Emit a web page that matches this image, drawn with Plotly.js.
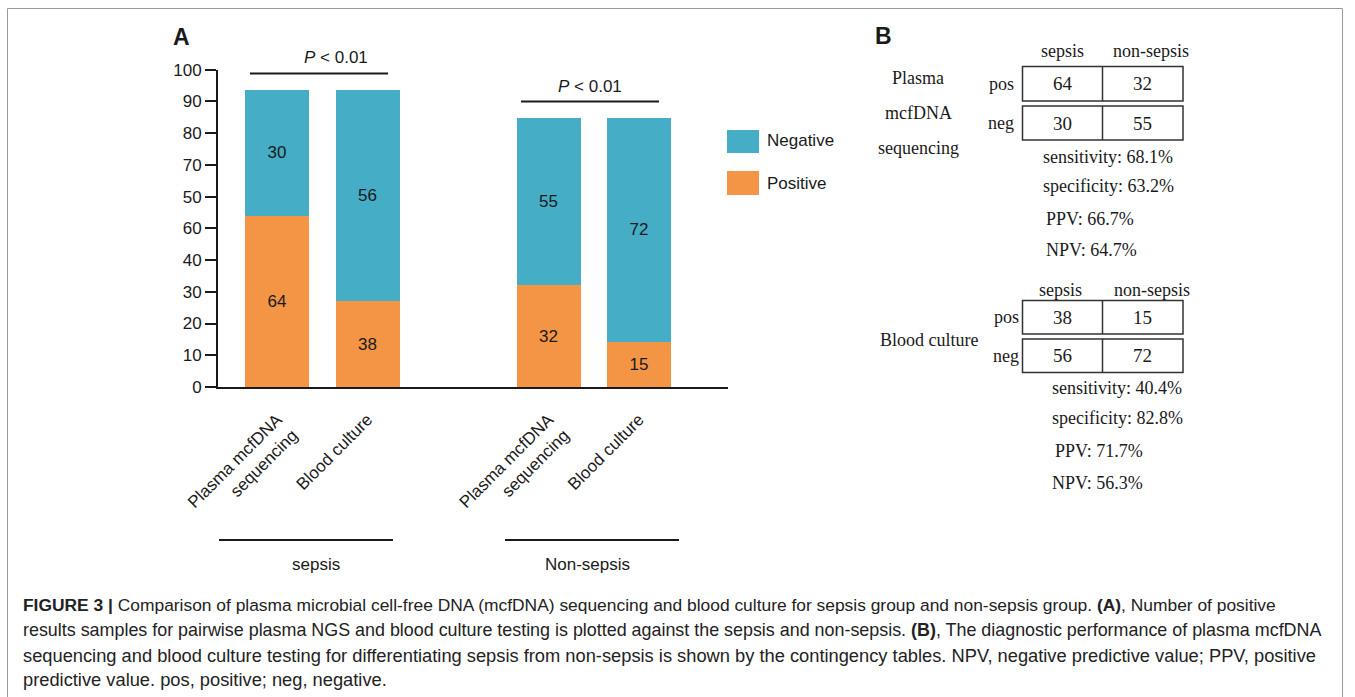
<!DOCTYPE html>
<html>
<head>
<meta charset="utf-8">
<script src="https://cdn.plot.ly/plotly-3.0.1.min.js"></script>
<style>html,body{margin:0;padding:0;background:#fff;}#chart{width:1355px;height:697px;}</style>
</head>
<body>
<div id="chart"></div>
<script>
// ---------- data ----------
const groups = ["sepsis", "Non-sepsis"];
const categories = ["Plasma mcfDNA<br>sequencing", "Blood culture"];
const barGroup = ["sepsis", "sepsis", "Non-sepsis", "Non-sepsis"];
const barCategory = ["Plasma mcfDNA<br>sequencing", "Blood culture", "Plasma mcfDNA<br>sequencing", "Blood culture"];
// bar segment heights as drawn
const positiveHeights = [54, 27, 32, 14.2];
const negativeHeights = [39.5, 66.5, 52.8, 70.6];
// numbers printed inside the segments
const positiveLabels = ["64", "38", "32", "15"];
const negativeLabels = ["30", "56", "55", "72"];
const yTickValues = [0, 10, 20, 30, 40, 50, 60, 70, 80, 90, 100];
const yTickLabels = ["0", "10", "20", "30", "40", "60", "50", "70", "80", "90", "100"];
const pText = "<i>P</i> < 0.01";

// panel B
const tableColumns = ["sepsis", "non-sepsis"];
const tableRows = ["pos", "neg"];
const plasmaTable = [["64", "32"], ["30", "55"]];
const cultureTable = [["38", "15"], ["56", "72"]];
const plasmaStats = ["sensitivity: 68.1%", "specificity: 63.2%", "PPV: 66.7%", "NPV: 64.7%"];
const cultureStats = ["sensitivity: 40.4%", "specificity: 82.8%", "PPV: 71.7%", "NPV: 56.3%"];
const plasmaName = ["Plasma", "mcfDNA", "sequencing"];
const cultureName = "Blood culture";

const captionLines = [
  "<b>FIGURE 3 |</b> Comparison of plasma microbial cell-free DNA (mcfDNA) sequencing and blood culture for sepsis group and non-sepsis group. <b>(A)</b>, Number of positive",
  "results samples for pairwise plasma NGS and blood culture testing is plotted against the sepsis and non-sepsis. <b>(B)</b>, The diagnostic performance of plasma mcfDNA",
  "sequencing and blood culture testing for differentiating sepsis from non-sepsis is shown by the contingency tables. NPV, negative predictive value; PPV, positive",
  "predictive value. pos, positive; neg, negative."
];

// ---------- helpers ----------
const W = 1355, H = 697;
const px = x => x / W;
const py = y => 1 - y / H;
const SANS = "Liberation Sans, Arial, sans-serif";
const SERIF = "Liberation Serif, Times New Roman, serif";
const BLUE = "#45adc6";
const ORANGE = "#f49546";
const INK = "#1a1a1a";

const keys = barCategory.map((c, i) => barGroup[i] + "|" + c);
const categoryOrder = [keys[0], keys[1], "gap", keys[2], keys[3]];

const traces = [
  {
    type: "bar", name: "Positive", x: keys, y: positiveHeights,
    text: positiveLabels, textposition: "inside", insidetextanchor: "middle",
    textangle: 0, constraintext: "none",
    textfont: {family: SANS, size: 17, color: INK},
    marker: {color: ORANGE, line: {width: 0}}, width: 0.707, hoverinfo: "skip"
  },
  {
    type: "bar", name: "Negative", x: keys, y: negativeHeights,
    text: negativeLabels, textposition: "inside", insidetextanchor: "middle",
    textangle: 0, constraintext: "none",
    textfont: {family: SANS, size: 17, color: INK},
    marker: {color: BLUE, line: {width: 0}}, width: 0.707, hoverinfo: "skip"
  }
];

const shapes = [];
const annotations = [];
function line(x0, y0, x1, y1, w, c) {
  shapes.push({type: "line", xref: "paper", yref: "paper", x0: px(x0), y0: py(y0), x1: px(x1), y1: py(y1),
    line: {color: c || INK, width: w || 2}});
}
function rect(x0, y0, x1, y1, opts) {
  shapes.push(Object.assign({type: "rect", xref: "paper", yref: "paper", x0: px(x0), y0: py(y0), x1: px(x1), y1: py(y1)}, opts));
}
function text(t, x, y, o) {
  o = o || {};
  annotations.push({text: t, xref: "paper", yref: "paper", x: px(x), y: py(y), showarrow: false,
    xanchor: o.xa || "center", yanchor: o.ya || "middle",
    font: {family: o.family || SANS, size: o.size || 17, color: o.color || INK}});
}

// outer frame
shapes.push({type: "rect", xref: "paper", yref: "paper", x0: px(7.5), y0: py(740), x1: px(1342.5), y1: py(8.5),
  line: {color: "#9a9a9a", width: 1}, fillcolor: "rgba(0,0,0,0)"});

// panel letters
text("<b>A</b>", 181, 37, {size: 23});
text("<b>B</b>", 883, 36, {size: 23});

// significance brackets
line(250, 73.5, 388, 73.5, 2);
text(pText, 336, 57, {size: 17});
line(521, 101.5, 659, 101.5, 2);
text(pText, 590, 86, {size: 17});

// group brackets
line(219, 540, 393, 540, 2);
text(groups[0], 316, 564, {size: 17});
line(505, 540, 679, 540, 2);
text(groups[1], 587, 564, {size: 17});

// legend
rect(727, 130, 759, 153, {fillcolor: BLUE, line: {width: 0}});
text("Negative", 765, 141, {xa: "left", size: 17});
rect(727, 171, 759, 195, {fillcolor: ORANGE, line: {width: 0}});
text("Positive", 765, 184, {xa: "left", size: 17});

// contingency tables
function table(rowsY, data, labelRight, colCenters) {
  const [hdrY, r1t, r1b, r2t, r2b] = rowsY;
  text(tableColumns[0], colCenters[0], hdrY, {family: SERIF, size: 18});
  text(tableColumns[1], colCenters[1], hdrY, {family: SERIF, size: 18});
  const xl = 1022.5, xm = 1102.5, xr = 1183;
  [[r1t, r1b], [r2t, r2b]].forEach((r, i) => {
    rect(xl, r[0], xr, r[1], {line: {color: "#333", width: 1.5}, fillcolor: "rgba(0,0,0,0)"});
    line(xm, r[0], xm, r[1], 1.5, "#333");
    const cy = (r[0] + r[1]) / 2;
    text(tableRows[i], labelRight, cy, {xa: "right", family: SERIF, size: 18});
    text(data[i][0], (xl + xm) / 2, cy, {family: SERIF, size: 19});
    text(data[i][1], (xm + xr) / 2, cy, {family: SERIF, size: 19});
  });
}
table([51, 66.5, 101, 106, 140], plasmaTable, 1016, [1062, 1151]);
plasmaName.forEach((t, i) => text(t, 918, [78, 113, 148][i], {family: SERIF, size: 18}));
[157, 186, 219, 250].forEach((y, i) => text(plasmaStats[i], i < 2 ? 1041 : 1044, y, {xa: "left", family: SERIF, size: 18}));

table([290, 300.5, 334, 339, 372.5], cultureTable, 1021, [1060, 1152]);
text(cultureName, 929, 340, {family: SERIF, size: 18});
[388, 418, 451, 483].forEach((y, i) => text(cultureStats[i], i === 2 ? 1053 : 1050, y, {xa: "left", family: SERIF, size: 18}));

// caption
const captionSizes = [17.4, 17.9, 18.3, 18.3];
captionLines.forEach((t, i) => {
  annotations.push({text: t, xref: "paper", yref: "paper", x: px(21), y: py([605, 630, 655, 679][i]),
    showarrow: false, xanchor: "left", yanchor: "middle", align: "left",
    font: {family: SANS, size: captionSizes[i], color: "#222"}});
});

const layout = {
  width: W, height: H,
  margin: {l: 0, r: 0, t: 0, b: 0},
  paper_bgcolor: "#fff", plot_bgcolor: "#fff",
  barmode: "stack",
  showlegend: false,
  xaxis: {
    domain: [px(218), px(728)],
    type: "category", categoryorder: "array", categoryarray: categoryOrder,
    range: [-0.652, 4.983], autorange: false,
    tickmode: "array", tickvals: keys, ticktext: barCategory,
    tickangle: -45, ticks: "", ticklabelstandoff: 14,
    tickfont: {family: SANS, size: 17, color: INK},
    showline: true, linecolor: INK, linewidth: 2, showgrid: false, zeroline: false,
    fixedrange: true
  },
  yaxis: {
    domain: [py(387), py(69.7)],
    range: [0, 100], autorange: false,
    tickmode: "array", tickvals: yTickValues, ticktext: yTickLabels,
    ticks: "outside", ticklen: 11, tickwidth: 2, tickcolor: INK,
    tickfont: {family: SANS, size: 17, color: INK},
    showline: true, linecolor: INK, linewidth: 2, showgrid: false, zeroline: false,
    fixedrange: true
  },
  shapes: shapes,
  annotations: annotations
};

Plotly.newPlot("chart", traces, layout, {staticPlot: true, displayModeBar: false});
</script>
</body>
</html>
